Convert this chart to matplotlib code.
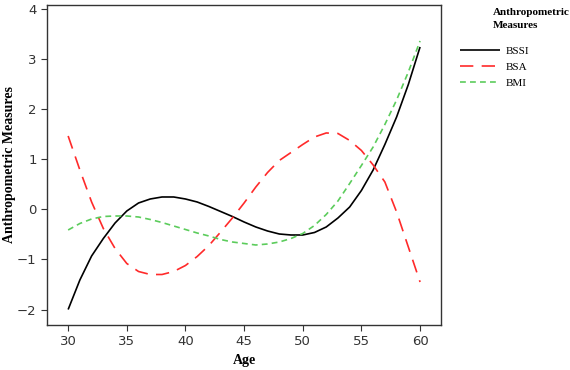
import matplotlib
matplotlib.use("Agg")
import matplotlib.pyplot as plt

ages = list(range(30, 61))
bssi = [-2.0, -1.41, -0.93, -0.58, -0.27, -0.03, 0.13, 0.21, 0.25, 0.25, 0.21,
        0.15, 0.06, -0.04, -0.14, -0.25, -0.35, -0.43, -0.49, -0.51, -0.51,
        -0.46, -0.35, -0.17, 0.05, 0.38, 0.79, 1.3, 1.85, 2.5, 3.25]
bsa = [1.47, 0.79, 0.15, -0.38, -0.78, -1.08, -1.24, -1.30, -1.30, -1.24, -1.12,
       -0.94, -0.72, -0.45, -0.17, 0.13, 0.45, 0.74, 0.98, 1.14, 1.30,
       1.45, 1.53, 1.52, 1.38, 1.18, 0.89, 0.55, -0.05, -0.75, -1.45]
bmi = [-0.41, -0.28, -0.19, -0.14, -0.13, -0.13, -0.15, -0.20, -0.26, -0.33, -0.40,
       -0.47, -0.53, -0.60, -0.65, -0.68, -0.71, -0.69, -0.65, -0.58, -0.48,
       -0.32, -0.10, 0.17, 0.52, 0.88, 1.25, 1.70, 2.19, 2.75, 3.37]
series_names = ["BSSI", "BSA", "BMI"]
xticks = [30, 35, 40, 45, 50, 55, 60]
yticks = [-2, -1, 0, 1, 2, 3, 4]

fig = plt.figure(figsize=(5.7, 3.7), dpi=100)
ax = fig.add_axes([0.0825, 0.1216, 0.6915, 0.865])

l1, = ax.plot(ages, bssi, color="black", lw=1.2, solid_capstyle="butt")
l2, = ax.plot(ages, bsa, color="#ff2a2a", lw=1.2, dashes=(8, 5))
l3, = ax.plot(ages, bmi, color="#5ccc5c", lw=1.2, dashes=(3.5, 2.5))

ax.set_xlim(28.2, 61.8)
ax.set_ylim(-2.31, 4.09)
ax.set_xticks(xticks)
ax.set_yticks(yticks)
for s in ax.spines.values():
    s.set_color("#333333")
    s.set_linewidth(1.0)
ax.tick_params(direction="out", length=4, width=0.8, color="#333333",
               labelsize=9.5, labelcolor="#333333")
ax.set_xlabel("Age", fontfamily="Liberation Serif", fontweight="bold", fontsize=10, labelpad=4)
ax.set_ylabel("Anthropometric Measures", fontfamily="Liberation Serif", fontweight="bold",
              fontsize=10)
ax.yaxis.set_label_coords(-0.078, 0.5)

fig.text(493 / 570, 1 - 8 / 370, "Anthropometric\nMeasures", fontfamily="Liberation Serif",
         fontweight="bold", fontsize=8, va="top", ha="left", linespacing=1.6)
leg = fig.legend([l1, l2, l3], series_names, loc="upper left",
                 bbox_to_anchor=(450 / 570, 1 - 36 / 370), frameon=False,
                 prop={"family": "Liberation Serif", "size": 8},
                 handlelength=3.6, handletextpad=0.5, labelspacing=0.55)

fig.savefig("out.png", dpi=100)
